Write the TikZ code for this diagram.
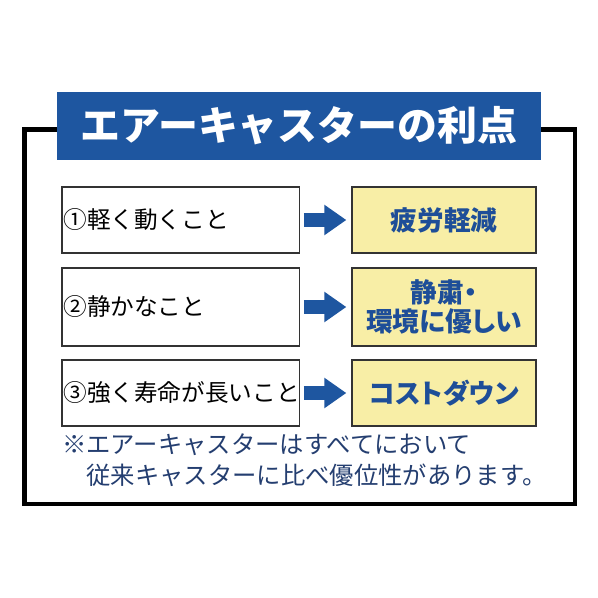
\documentclass[tikz,border=0pt]{standalone}
\usepackage{fontspec}
\setmainfont{Noto Sans CJK JP}
\newfontfamily\paltfont[RawFeature=+palt]{Noto Sans CJK JP}
\usetikzlibrary{positioning,arrows.meta}
\definecolor{bannerblue}{RGB}{30,86,160}
\definecolor{pointyellow}{RGB}{248,238,166}
\definecolor{pointtext}{RGB}{30,78,152}
\definecolor{notetext}{RGB}{36,62,112}

\begin{document}
\begin{tikzpicture}[x=0.025cm, y=-0.025cm,
    banner/.style={fill=bannerblue, text=white, minimum width=12.1cm, minimum height=1.7cm,
      font=\fontsize{28.4}{30}\bfseries\selectfont},
    reason/.style={draw=black!80, line width=0.9pt, fill=white, text width=5.85cm, align=left,
      inner xsep=0.04cm, minimum height=1.65cm, font=\fontsize{16.8}{20}\selectfont},
    merit/.style={draw=black!80, line width=0.9pt, fill=pointyellow, text=pointtext, minimum width=4.6cm,
      minimum height=1.65cm, align=center, font=\paltfont\fontsize{19}{21}\bfseries\selectfont},
    push/.style={draw=bannerblue, line width=0.35cm, -{Triangle[length=0.55cm, width=0.725cm]},
      shorten <=0.1cm, shorten >=0.125cm}
  ]
    \useasboundingbox[fill=white] (0,0) rectangle (598,598);

    % Rahmen
    \draw[line width=3.5pt] (24.5,129.5) rectangle (575,504);

    % Titel
    \node[banner] (title) at (299,126) {エアーキャスターの利点};

    % Gruende (links)
    \node[reason] (r1) at (180.5,220) {①軽く動くこと};
    \node[reason, minimum height=1.95cm] (r2) at (180.5,307) {②静かなこと};
    \node[reason] (r3) at (180.5,393) {③強く寿命が長いこと};

    % Vorteile (rechts)
    \node[merit] (m1) at (444,220) {疲労軽減};
    \node[merit, minimum height=1.95cm] (m2) at (444,307) {静粛・\\環境に優しい};
    \node[merit] (m3) at (444,393) {コストダウン};

    % Pfeile
    \draw[push] (r1) -- (m1);
    \draw[push] (r2) -- (m2);
    \draw[push] (r3) -- (m3);

    % Hinweis
    \node[anchor=north west, inner sep=0pt, align=left, text=notetext,
      font=\fontsize{17.3}{22}\selectfont] (note) at (62,433)
      {※エアーキャスターはすべてにおいて\\\hspace*{1em}従来キャスターに比べ優位性があります。};
  \end{tikzpicture}
\end{document}
